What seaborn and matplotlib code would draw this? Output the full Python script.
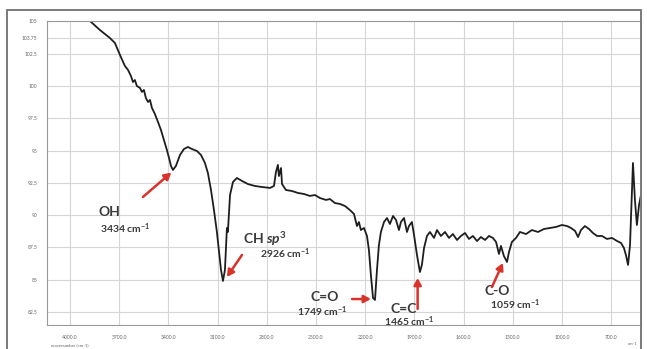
import pandas as pd
import seaborn as sns
from matplotlib import pyplot as plt
from matplotlib.ticker import MultipleLocator, AutoMinorLocator
from matplotlib.patches import Rectangle

# spectrum
wavenumber = [3890, 3878, 3817, 3756, 3726, 3695, 3665, 3646, 3628, 3616, 3604, 3592,
              3573, 3561, 3549, 3537, 3524, 3512, 3500, 3482, 3463, 3445, 3427, 3409,
              3396, 3384, 3372, 3354, 3329, 3305, 3281, 3256, 3226, 3201, 3177, 3159,
              3140, 3122, 3104, 3091, 3079, 3067, 3055, 3049, 3043, 3037, 3024, 3006,
              2982, 2951, 2915, 2872, 2829, 2780, 2756, 2744, 2732, 2726, 2713, 2707,
              2683, 2646, 2610, 2573, 2537, 2506, 2476, 2439, 2415, 2384, 2354, 2323,
              2293, 2268, 2250, 2238, 2226, 2207, 2189, 2177, 2165, 2152, 2140, 2128,
              2116, 2104, 2085, 2067, 2049, 2030, 2012, 1994, 1982, 1963, 1945, 1933,
              1915, 1902, 1884, 1866, 1854, 1841, 1823, 1805, 1780, 1762, 1738, 1713,
              1689, 1665, 1640, 1616, 1591, 1567, 1543, 1518, 1494, 1469, 1445, 1421,
              1402, 1384, 1372, 1354, 1335, 1323, 1305, 1280, 1256, 1219, 1183, 1146,
              1110, 1073, 1036, 1000, 969, 945, 920, 902, 884, 860, 835, 811,
              786, 756, 725, 695, 664, 640, 622, 610, 597, 585, 573, 567,
              555, 543, 530, 518]
transmittance = [105.2, 105.03, 104.33, 103.71, 103.33, 102.40, 101.55, 101.24, 100.77, 100.31, 100.46, 100.00,
                 99.85, 99.54, 99.69, 99.07, 98.76, 98.92, 98.30, 97.83, 97.21, 96.59, 95.82, 95.05,
                 94.43, 93.81, 93.50, 93.81, 94.66, 95.12, 95.28, 95.12, 94.97, 94.66, 94.04, 93.27,
                 91.95, 90.40, 88.70, 87.15, 85.76, 84.91, 85.76, 87.31, 89.01, 88.70, 91.56, 92.57,
                 92.88, 92.65, 92.41, 92.26, 92.18, 92.11, 92.26, 93.34, 93.89, 93.03, 93.65, 92.41,
                 91.95, 91.87, 91.72, 91.64, 91.49, 91.56, 91.33, 91.18, 91.25, 90.94, 90.87, 90.71,
                 90.40, 90.09, 89.16, 89.47, 88.85, 89.01, 88.39, 87.31, 85.37, 83.59, 83.44, 85.76,
                 87.69, 88.70, 89.47, 89.78, 89.32, 89.94, 89.63, 88.85, 89.47, 89.78, 88.70, 89.16,
                 89.47, 88.47, 86.92, 85.60, 86.15, 87.46, 88.39, 88.70, 88.24, 88.85, 88.39, 88.70,
                 88.24, 88.54, 88.08, 88.39, 88.62, 88.16, 88.39, 88.00, 88.31, 88.08, 88.39, 88.24,
                 87.93, 87.00, 87.62, 86.84, 86.38, 87.15, 87.93, 88.24, 88.70, 88.54, 88.85, 88.70,
                 88.93, 89.01, 89.09, 89.24, 89.16, 89.01, 88.78, 88.31, 88.85, 89.16, 88.93, 88.62,
                 88.39, 88.39, 88.16, 88.24, 88.00, 87.85, 87.46, 86.92, 86.15, 87.69, 91.95, 94.04,
                 91.18, 89.24, 90.79, 91.56]

x_ticks = [4000, 3700, 3400, 3100, 2800, 2500, 2200, 1900, 1600, 1300, 1000, 700]
y_ticks = [82.5, 85, 87.5, 90, 92.5, 95, 97.5, 100, 102.5, 103.75, 105]

band_names = ["OH", "CH $\\it{sp}^3$", "C=O", "C=C", "C-O"]
band_wavenumbers = ["3434", "2926", "1749", "1465", "1059"]

# (name xy, value xy, arrow start, arrow tip) in data units
band_layout = [
    ((3829, 90.25), (3817, 88.93), (3555, 91.41), (3382, 93.30)),
    ((2945, 88.16), (2841, 87.00), (2951, 86.92), (3043, 85.22)),
    ((2536, 83.67), (2616, 82.51), (2280, 83.51), (2165, 83.51)),
    ((2043, 82.74), (2085, 81.73), (1880, 82.75), (1880, 85.14)),
    ((1475, 84.13), (1439, 83.05), (1427, 84.44), (1360, 86.30)),
]

df = pd.DataFrame({"Wavenumber": wavenumber, "T": transmittance})

sns.set_style("white")
plt.rcParams["font.family"] = ["Lato", "DejaVu Sans"]
plt.rcParams["mathtext.fontset"] = "custom"
plt.rcParams["mathtext.rm"] = "Lato:bold"
plt.rcParams["mathtext.it"] = "Lato:italic:bold"
plt.rcParams["mathtext.default"] = "regular"

fig = plt.figure(figsize=(6.47, 3.49), dpi=100)
ax = fig.add_axes([47 / 647, 24 / 349, 594 / 647, 304 / 349])

sns.lineplot(data=df, x="Wavenumber", y="T", sort=False, estimator=None,
             color="#1e1e1e", linewidth=1.3, ax=ax)

ax.set_xlim(4140, 518)
ax.set_ylim(81.5, 105.03)
ax.set_xticks(x_ticks)
ax.set_yticks(y_ticks)
ax.xaxis.set_minor_locator(AutoMinorLocator(6))
ax.yaxis.set_minor_locator(MultipleLocator(0.5))
ax.grid(True, which="major", color="#d6d6d6", linewidth=0.8)
ax.tick_params(axis="both", which="major", direction="out", length=4, width=0.7,
               color="#888888", labelsize=3.6, labelcolor="#666666", pad=3)
ax.tick_params(axis="both", which="minor", direction="out", length=2, width=0.5, color="#999999")
ax.set_xticklabels([f"{v}.0" for v in x_ticks])
ax.set_yticklabels([f"{v:g}" for v in y_ticks])
ax.set_xlabel("")
ax.set_ylabel("")
for sp in ax.spines.values():
    sp.set_color("#9a9a9a")
    sp.set_linewidth(0.8)

fig.text(70 / 647, 1 - 345 / 349, "wavenumber (cm-1)", fontsize=3.2, color="#666666",
         ha="center", va="center")
fig.text(633 / 647, 1 - 344 / 349, "cm-1", fontsize=3.2, color="#666666",
         ha="center", va="center")

red = "#d8322a"
txt = "#3a3a3a"
for name, value, (name_xy, val_xy, start, tip) in zip(band_names, band_wavenumbers, band_layout):
    ax.text(*name_xy, name, fontsize=10, fontweight="bold", color=txt, ha="left", va="center")
    ax.text(*val_xy, value + " cm$^{-1}$", fontsize=7.5, fontweight="bold", color=txt,
            ha="left", va="center", clip_on=False)
    ax.annotate("", xy=tip, xytext=start,
                arrowprops=dict(arrowstyle="-|>,head_width=0.22,head_length=0.4",
                                color=red, lw=1.8, shrinkA=0, shrinkB=0))

fig.patches.append(Rectangle((7 / 647, -0.1), 634 / 647, 1.1 - 10 / 349,
                             transform=fig.transFigure, fill=False,
                             edgecolor="#7a7a7a", linewidth=1.4))

fig.savefig("out.png", dpi=100)
